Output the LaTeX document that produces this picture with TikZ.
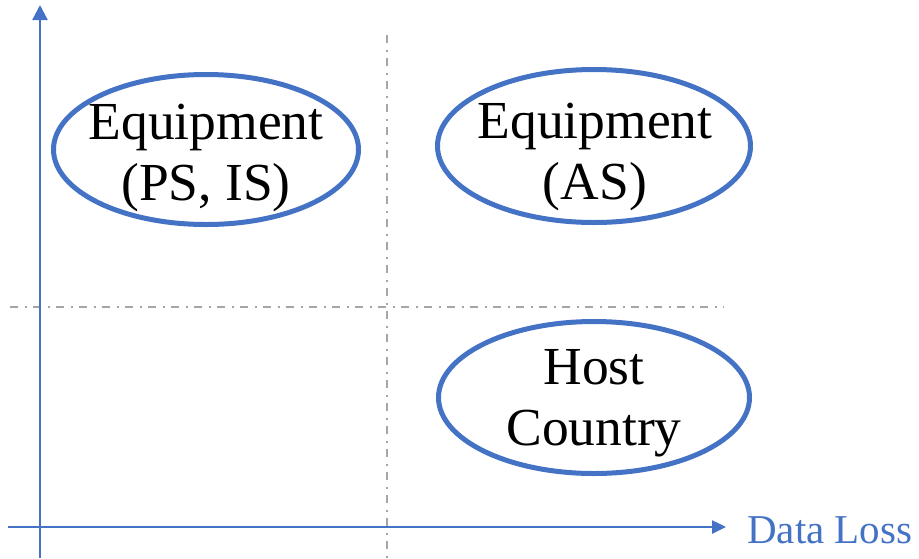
\documentclass[tikz,border=0pt]{standalone}
\usepackage{fontspec}
\setmainfont{Liberation Serif}
\usetikzlibrary{arrows.meta,shapes.geometric}
\definecolor{axblue}{HTML}{4472C4}
\definecolor{grid}{HTML}{A6A6A6}
\tikzset{
  axis/.style={draw=axblue,line width=2.5pt,-{Triangle[length=15pt,width=15pt]}},
  xaxis/.style={draw=axblue,line width=2.5pt,-{Triangle[length=14pt,width=13pt]}},
  guide/.style={draw=grid,line width=1.6pt,dash pattern=on 8pt off 7pt on 2pt off 6pt},
  oval/.style={ellipse,draw=axblue,line width=5pt,inner sep=0pt},
  lbl/.style={align=center,font=\fontsize{53.5}{61}\selectfont,inner sep=0pt}
}
\begin{document}
\begin{tikzpicture}[x=1pt,y=-1pt]
\useasboundingbox (0,0) rectangle (919,558);
\coordinate (yb) at (40,558);
\coordinate (yt) at (40,5);
\coordinate (xl) at (8,527);
\coordinate (xr) at (726,527);
\coordinate (vt) at (387,35);
\coordinate (vb) at (387,558);
\coordinate (hl) at (10,307);
\coordinate (hr) at (724,307);
\draw[guide] (vt) -- (vb);
\draw[guide] (hl) -- (hr);
\draw[axis] (yb) -- (yt);
\draw[xaxis] (xl) -- (xr);
\node[anchor=base west,inner sep=0pt,text=axblue,font=\fontsize{41}{48}\selectfont] (dl) at (747,543) {Data Loss};
\node[oval,minimum width=305pt,minimum height=150pt] (e1) at (206,149.5) {};
\node[oval,minimum width=313pt,minimum height=153pt] (e2) at (594,146) {};
\node[oval,minimum width=311pt,minimum height=152pt] (e3) at (594,397.5) {};
\node[lbl] (t1) at (206,158) {Equipment\\(PS, IS)};
\node[lbl] (t2) at (595,157) {Equipment\\(AS)};
\node[lbl] (t3) at (594,403) {Host\\Country};
\end{tikzpicture}
\end{document}
